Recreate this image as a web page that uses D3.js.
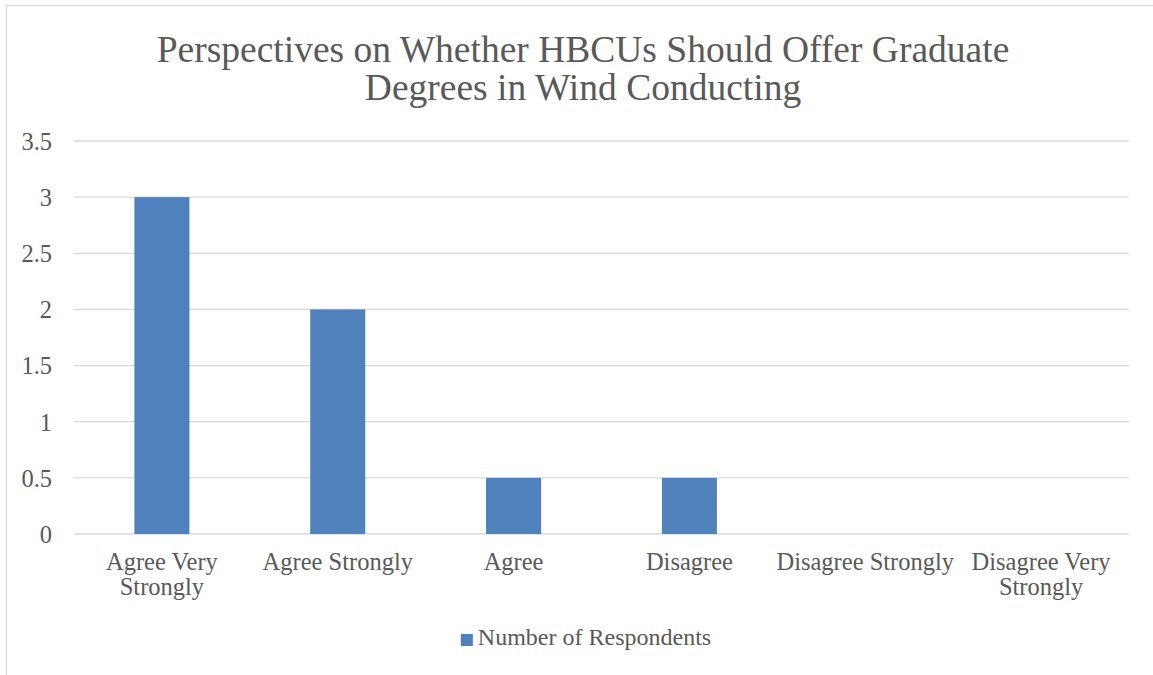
<!DOCTYPE html>
<html lang="en">
<head>
    <meta charset="UTF-8">
    <title>HBCU Graduate Degrees in Wind Conducting</title>
    <style>
        body {
            margin: 0;
            background: #ffffff;
            overflow: hidden;
        }
        .grid line {
            stroke: #d9d9d9;
            stroke-width: 1.3;
        }
    </style>
</head>
<body>
    <svg id="chart" width="1153" height="675"></svg>

    <script src="https://d3js.org/d3.v7.min.js"></script>
    <script>
        // chart data
        const categories = ["Agree Very Strongly", "Agree Strongly", "Agree", "Disagree", "Disagree Strongly", "Disagree Very Strongly"];
        const respondents = [3, 2, 0.5, 0.5, 0, 0];
        const yTicks = [0, 0.5, 1, 1.5, 2, 2.5, 3, 3.5];
        const titleLines = ["Perspectives on Whether HBCUs Should Offer Graduate", "Degrees in Wind Conducting"];
        const seriesName = "Number of Respondents";

        // wrapped category labels, as in the original
        const catLines = {
            "Agree Very Strongly": ["Agree Very", "Strongly"],
            "Disagree Very Strongly": ["Disagree Very", "Strongly"]
        };

        const FONT = "'Liberation Serif', 'Times New Roman', serif";
        const TEXT_COL = "#595959";

        const svg = d3.select("#chart");
        const margin = { top: 141, right: 24, bottom: 141, left: 74 };
        const W = 1153, H = 675;
        const plotW = W - margin.left - margin.right;
        const plotH = H - margin.top - margin.bottom;
        const barColour = "#4f81bd";
        const centerX = 583;

        // outer frame (only left and top edges are in view)
        svg.append("rect")
            .attr("x", 6.5)
            .attr("y", 5.5)
            .attr("width", W + 20)
            .attr("height", H + 20)
            .attr("fill", "none")
            .attr("stroke", "#d9d9d9")
            .attr("stroke-width", 1.3);

        // title
        svg.append("text")
            .attr("text-anchor", "middle")
            .style("font-family", FONT)
            .style("font-size", "37.5px")
            .style("fill", TEXT_COL)
            .selectAll("tspan")
            .data(titleLines)
            .enter().append("tspan")
            .attr("x", centerX)
            .attr("y", (d, i) => 62 + i * 38)
            .text(d => d);

        const g = svg.append("g")
            .attr("transform", `translate(${margin.left},${margin.top})`);

        const x = d3.scaleBand()
            .domain(categories)
            .range([0, plotW])
            .paddingInner(0.687)
            .paddingOuter(0.687 / 2);

        const y = d3.scaleLinear()
            .domain([0, 3.5])
            .range([plotH, 0]);

        // gridlines
        g.append("g")
            .attr("class", "grid")
            .selectAll("line")
            .data(yTicks)
            .enter().append("line")
            .attr("x1", 0)
            .attr("x2", plotW)
            .attr("y1", d => y(d))
            .attr("y2", d => y(d));

        // y axis labels
        const yAxis = g.append("g")
            .call(d3.axisLeft(y).tickValues(yTicks).tickSize(0).tickPadding(22).tickFormat(d3.format("")));
        yAxis.select(".domain").remove();
        yAxis.selectAll("text")
            .style("font-family", FONT)
            .style("font-size", "24.5px")
            .style("fill", TEXT_COL)
            .attr("dy", "0.34em");

        // bars
        g.selectAll(".bar")
            .data(respondents)
            .enter().append("rect")
            .attr("class", "bar")
            .attr("x", (d, i) => x(categories[i]))
            .attr("y", d => y(d))
            .attr("width", x.bandwidth())
            .attr("height", d => plotH - y(d))
            .attr("fill", barColour);

        // x axis labels
        const xLabels = g.append("g")
            .selectAll("text")
            .data(categories)
            .enter().append("text")
            .attr("text-anchor", "middle")
            .style("font-family", FONT)
            .style("font-size", "24.5px")
            .style("fill", TEXT_COL);
        xLabels.selectAll("tspan")
            .data(d => (catLines[d] || [d]).map(t => ({ t, c: d })))
            .enter().append("tspan")
            .attr("x", d => x(d.c) + x.bandwidth() / 2)
            .attr("y", (d, i) => plotH + 36 + i * 25)
            .text(d => d.t);

        // legend
        const legend = svg.append("g");
        const legendText = legend.append("text")
            .attr("y", 645)
            .style("font-family", FONT)
            .style("font-size", "24px")
            .style("fill", TEXT_COL)
            .text(seriesName);
        const tw = legendText.node().getComputedTextLength();
        const lx = 586 - (tw + 17) / 2;
        legend.append("rect")
            .attr("x", lx)
            .attr("y", 634)
            .attr("width", 12)
            .attr("height", 12)
            .attr("fill", barColour);
        legendText.attr("x", lx + 17);
    </script>
</body>
</html>
